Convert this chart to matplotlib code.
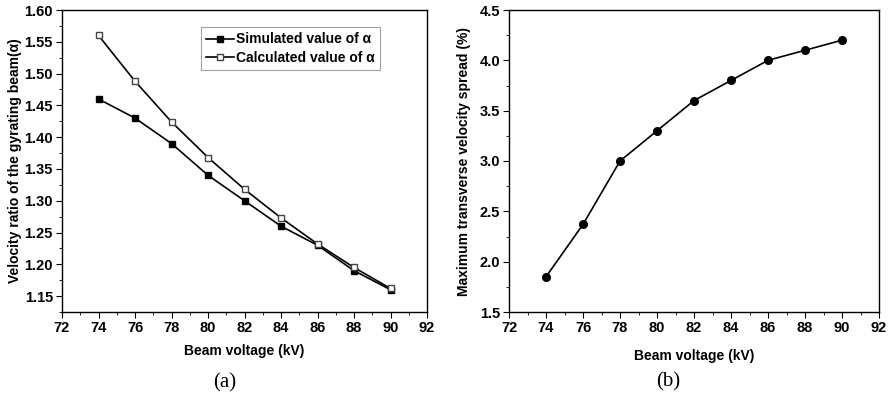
import matplotlib
matplotlib.use("Agg")
import matplotlib.pyplot as plt
from matplotlib.ticker import MultipleLocator, FormatStrFormatter

voltage = [74, 76, 78, 80, 82, 84, 86, 88, 90]
alpha_sim = [1.46, 1.43, 1.39, 1.34, 1.30, 1.26, 1.23, 1.19, 1.16]
alpha_calc = [1.56, 1.488, 1.424, 1.368, 1.318, 1.273, 1.232, 1.195, 1.162]
spread = [1.85, 2.37, 3.0, 3.3, 3.6, 3.8, 4.0, 4.1, 4.2]

plt.rcParams['font.family'] = ['Liberation Sans', 'DejaVu Sans']
plt.rcParams['font.weight'] = 'bold'

fig = plt.figure(figsize=(8.92, 4.0), dpi=100)
W, H = 892, 400
ax1 = fig.add_axes([62 / W, 1 - 312 / H, (427 - 62) / W, (312 - 10) / H])
ax2 = fig.add_axes([509 / W, 1 - 312 / H, (879 - 509) / W, (312 - 10) / H])

def style(ax, xlpad):
    for s in ax.spines.values():
        s.set_linewidth(1.0)
    ax.tick_params(which='both', direction='out', top=False, right=False, labelsize=10.5)
    ax.tick_params(which='major', length=4, pad=2.5)
    ax.tick_params(which='minor', length=2.5)
    ax.set_xlim(72, 92)
    ax.xaxis.set_major_locator(MultipleLocator(2))
    ax.xaxis.set_minor_locator(MultipleLocator(1))
    for lab in ax.get_xticklabels() + ax.get_yticklabels():
        lab.set_fontweight('bold')
    ax.set_xlabel('Beam voltage (kV)', fontsize=10, fontweight='bold', labelpad=xlpad)

ax1.plot(voltage, alpha_sim, '-s', color='black', lw=1.2, ms=5, mfc='black',
         label='Simulated value of α')
ax1.plot(voltage, alpha_calc, '-s', color='black', lw=1.2, ms=5, mfc='white',
         mec='#444444', label='Calculated value of α')
ax1.set_ylim(1.125, 1.60)
ax1.yaxis.set_major_locator(MultipleLocator(0.05))
ax1.yaxis.set_minor_locator(MultipleLocator(0.025))
ax1.yaxis.set_major_formatter(FormatStrFormatter('%.2f'))
style(ax1, 6.5)
ax1.set_ylabel('Velocity ratio of the gyrating beam(α)', fontsize=10, fontweight='bold', labelpad=2)
leg = ax1.legend(loc='upper right', bbox_to_anchor=(0.871, 0.944),
                 prop={'weight': 'bold', 'size': 10}, frameon=True, fancybox=False,
                 edgecolor='#888888', handlelength=2.0, handletextpad=0.1,
                 borderpad=0.4, labelspacing=0.3, borderaxespad=0)
leg.get_frame().set_linewidth(0.8)

ax2.plot(voltage, spread, '-o', color='black', lw=1.2, ms=5.5)
ax2.set_ylim(1.5, 4.5)
ax2.yaxis.set_major_locator(MultipleLocator(0.5))
ax2.yaxis.set_minor_locator(MultipleLocator(0.25))
ax2.yaxis.set_major_formatter(FormatStrFormatter('%.1f'))
style(ax2, 10)
ax2.set_ylabel('Maximum transverse velocity spread (%)', fontsize=10, fontweight='bold', labelpad=6)

fig.text(225 / W, 1 - 383 / H, '(a)', fontsize=15, family='Liberation Serif',
         fontweight='normal', ha='center', va='center')
fig.text(668 / W, 1 - 382 / H, '(b)', fontsize=15, family='Liberation Serif',
         fontweight='normal', ha='center', va='center')

fig.savefig('out.png', dpi=100)
